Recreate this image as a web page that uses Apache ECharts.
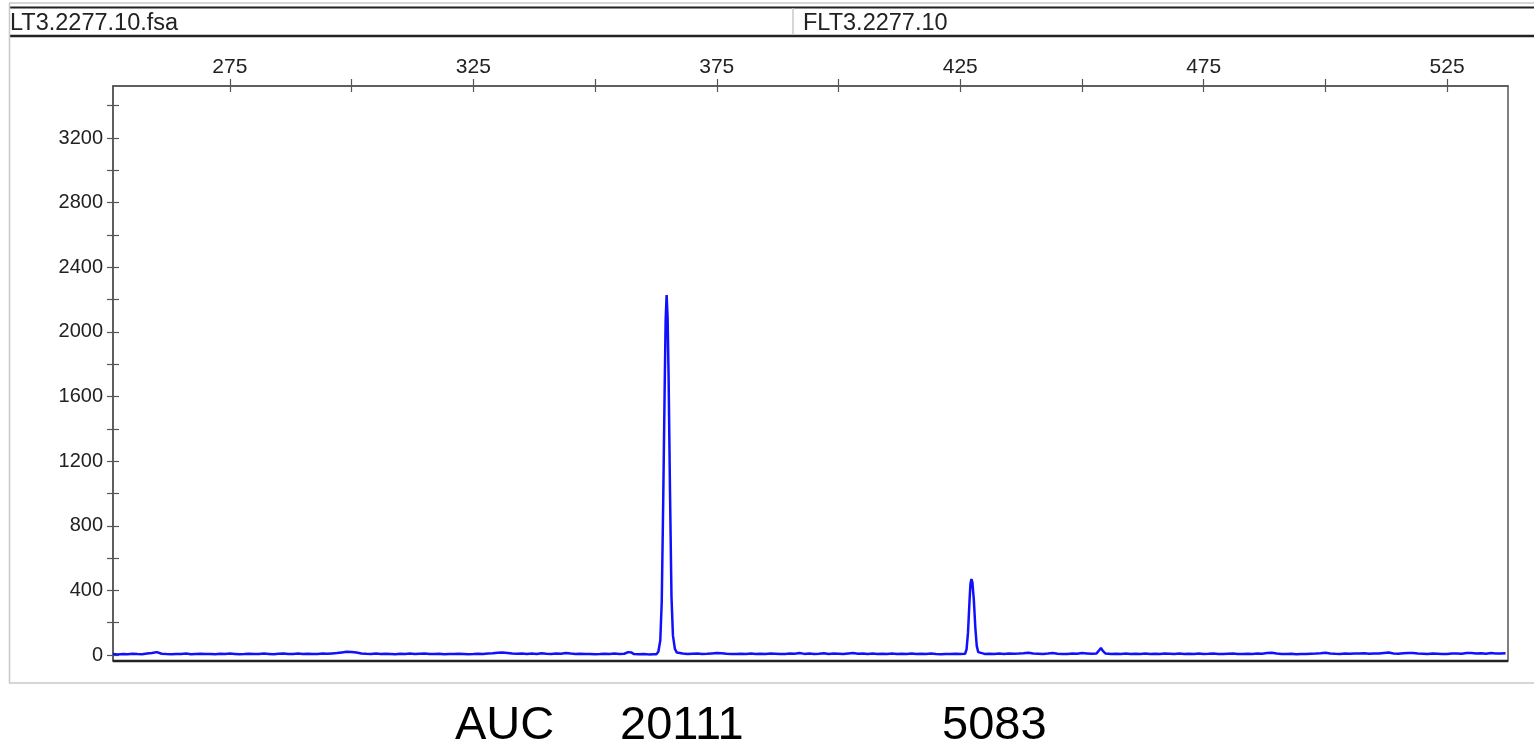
<!DOCTYPE html>
<html>
<head>
<meta charset="utf-8">
<title>FLT3.2277.10</title>
<script src="https://cdn.jsdelivr.net/npm/echarts@6/dist/echarts.min.js"></script>
<style>
  html, body { margin: 0; padding: 0; background: #fff; }
  #chart { width: 1534px; height: 744px; }
</style>
</head>
<body>
<div id="chart"></div>
<script>
// ── Data ─────────────────────────────────────────────────────────────────────
// Baseline trace, one reading per base pair starting at 251 bp.
const baseStartBp = 251;
const baseRfu = [
  6, 4, 7, 5, 8, 6, 5, 9, 12, 18,
  8, 6, 5, 7, 6, 9, 5, 7, 8, 6,
  7, 5, 8, 6, 9, 7, 5, 6, 8, 7,
  6, 9, 7, 5, 8, 10, 6, 7, 9, 6,
  8, 6, 7, 9, 8, 10, 12, 16, 20, 19,
  15, 10, 8, 7, 9, 6, 8, 7, 5, 8,
  7, 9, 6, 8, 10, 7, 6, 8, 5, 7,
  6, 8, 7, 5, 6, 8, 7, 9, 11, 14,
  15, 13, 9, 8, 10, 7, 9, 6, 11, 8,
  7, 10, 8, 12, 9, 7, 8, 6, 7, 5,
  6, 8, 7, 9, 6, 8, 12, 10, 5, 6,
  4, 5, 6, 10, 20, 10, 8, 9, 7, 8,
  9, 7, 8, 10, 12, 11, 8, 7, 6, 8,
  7, 9, 6, 8, 7, 10, 8, 6, 7, 9,
  8, 12, 7, 9, 6, 8, 11, 7, 9, 8,
  6, 9, 12, 8, 10, 7, 9, 6, 8, 7,
  9, 6, 8, 7, 10, 6, 8, 7, 9, 6,
  5, 7, 6, 8, 6, 10, 40, 10, 6, 7,
  8, 6, 9, 7, 10, 8, 9, 11, 14, 9,
  8, 7, 9, 12, 8, 6, 7, 9, 8, 12,
  10, 8, 15, 40, 12, 6, 8, 7, 9, 6,
  8, 7, 9, 6, 8, 7, 10, 8, 6, 9,
  7, 8, 6, 9, 7, 8, 10, 7, 6, 8,
  9, 7, 6, 8, 7, 9, 8, 12, 14, 9,
  7, 6, 8, 5, 7, 6, 8, 9, 11, 14,
  10, 8, 7, 9, 8, 10, 9, 11, 8, 10,
  9, 12, 15, 10, 8, 11, 13, 12, 9, 8,
  7, 9, 8, 6, 7, 10, 9, 8, 12, 13,
  9, 11, 8, 12, 10, 9, 11
];

// Finely sampled regions around the peaks and small bumps
const bump1Bp  = [356.4, 356.8, 357.1, 357.5, 358.0];
const bump1Rfu = [8, 18, 28, 15, 6];

const peak1Bp  = [362.6, 363.0, 363.4, 363.7, 364.0, 364.3, 364.5, 364.7, 364.9, 365.1, 365.4, 365.7, 366.0, 366.4, 366.8, 367.2];
const peak1Rfu = [5, 20, 90, 330, 950, 1650, 2070, 2228, 2090, 1740, 1000, 360, 120, 38, 15, 6];

const peak2Bp  = [426.0, 426.3, 426.6, 426.9, 427.1, 427.3, 427.5, 427.8, 428.1, 428.4, 428.7, 429.0];
const peak2Rfu = [8, 35, 140, 330, 440, 470, 450, 340, 170, 55, 18, 8];

const bump2Bp  = [453.0, 453.5, 453.9, 454.3, 454.8];
const bump2Rfu = [10, 28, 44, 25, 10];

// Axis ticks / labels
const xTickValues  = [275, 300, 325, 350, 375, 400, 425, 450, 475, 500, 525];
const xLabelValues = [275, 325, 375, 425, 475, 525];
const yTickValues  = [0, 200, 400, 600, 800, 1000, 1200, 1400, 1600, 1800, 2000, 2200, 2400, 2600, 2800, 3000, 3200, 3400];
const yLabelValues = [0, 400, 800, 1200, 1600, 2000, 2400, 2800, 3200];

const headerLeft  = 'LT3.2277.10.fsa';
const headerRight = 'FLT3.2277.10';
const aucLabel  = 'AUC';
const aucValues = ['20111', '5083'];

// ── Build the trace ──────────────────────────────────────────────────────────
const detail = [
  [bump1Bp, bump1Rfu], [peak1Bp, peak1Rfu], [peak2Bp, peak2Rfu], [bump2Bp, bump2Rfu]
];
const points = [];
baseRfu.forEach((v, i) => {
  const bp = baseStartBp + i;
  // drop baseline readings that fall inside a finely sampled window
  const covered = detail.some(([bps]) => bp >= bps[0] && bp <= bps[bps.length - 1]);
  if (!covered) points.push([bp, v]);
});
detail.forEach(([bps, rfus]) => bps.forEach((bp, i) => points.push([bp, rfus[i]])));
points.sort((a, b) => a[0] - b[0]);

// ── Chart ────────────────────────────────────────────────────────────────────
const FONT = 'Liberation Sans, Arial, Helvetica, sans-serif';
const AXIS = '#555';
const X_MIN = 251, X_MAX = 537.5;
const Y_MIN = -37, Y_MAX = 3522;
const GRID = { left: 113, right: 26, top: 86, bottom: 83 };
const GRID_W = 1534 - GRID.left - GRID.right;
const GRID_H = 744 - GRID.top - GRID.bottom;

const chart = echarts.init(document.getElementById('chart'), null, { renderer: 'canvas' });

const xBase = { type: 'value', min: X_MIN, max: X_MAX, splitLine: { show: false } };
const yBase = { type: 'value', min: Y_MIN, max: Y_MAX, splitLine: { show: false } };
const tickStyle = { color: AXIS, width: 1.2 };

chart.setOption({
  animation: false,
  backgroundColor: '#fff',
  grid: Object.assign({ show: true, borderColor: AXIS, borderWidth: 1.5 }, GRID),
  xAxis: [
    // labelled top axis, ticks pointing out
    Object.assign({}, xBase, {
      position: 'top',
      axisLine: { show: true, onZero: false, lineStyle: { color: AXIS, width: 1.5 } },
      axisTick: { show: true, length: 7, customValues: xTickValues, lineStyle: tickStyle },
      axisLabel: { customValues: xLabelValues, color: '#222', fontSize: 21, fontFamily: FONT, margin: 8 }
    }),
    // helper axis shifted up onto the top edge: its ticks point into the plot
    Object.assign({}, xBase, {
      position: 'bottom',
      offset: -GRID_H,
      axisLine: { show: false, onZero: false },
      axisTick: { show: true, length: 6, customValues: xTickValues, lineStyle: tickStyle },
      axisLabel: { show: false }
    })
  ],
  yAxis: [
    Object.assign({}, yBase, {
      position: 'left',
      axisLine: { show: true, onZero: false, lineStyle: { color: AXIS, width: 1.5 } },
      axisTick: { show: true, length: 6, customValues: yTickValues, lineStyle: tickStyle },
      axisLabel: {
        customValues: yLabelValues, color: '#222', fontSize: 20, fontFamily: FONT, margin: 10,
        formatter: v => String(v)
      }
    }),
    // helper axis shifted left onto the left edge: its ticks point into the plot
    Object.assign({}, yBase, {
      position: 'right',
      offset: -GRID_W,
      axisLine: { show: false, onZero: false },
      axisTick: { show: true, length: 6, customValues: yTickValues, lineStyle: tickStyle },
      axisLabel: { show: false }
    })
  ],
  series: [{
    type: 'line',
    xAxisIndex: 0,
    yAxisIndex: 0,
    data: points,
    showSymbol: false,
    smooth: false,
    clip: true,
    lineStyle: { color: '#1010ff', width: 2.5 }
  }],
  graphic: [
    // header strip
    { type: 'line', shape: { x1: 9, y1: 3, x2: 1534, y2: 3 }, style: { stroke: '#c8c8c8', lineWidth: 1.5 } },
    { type: 'line', shape: { x1: 9, y1: 7.5, x2: 1534, y2: 7.5 }, style: { stroke: '#222', lineWidth: 2 } },
    { type: 'line', shape: { x1: 9, y1: 36, x2: 1534, y2: 36 }, style: { stroke: '#222', lineWidth: 2.5 } },
    { type: 'line', shape: { x1: 793, y1: 8, x2: 793, y2: 35 }, style: { stroke: '#c8c8c8', lineWidth: 1.5 } },
    { type: 'text', left: 10, top: 12, style: { text: headerLeft, font: '23.5px ' + FONT, fill: '#222' } },
    { type: 'text', left: 803, top: 12, style: { text: headerRight, font: '23.5px ' + FONT, fill: '#222' } },
    // panel frame
    { type: 'line', shape: { x1: 9.5, y1: 3, x2: 9.5, y2: 683 }, style: { stroke: '#c8c8c8', lineWidth: 1.5 } },
    { type: 'line', shape: { x1: 9, y1: 683, x2: 1534, y2: 683 }, style: { stroke: '#c8c8c8', lineWidth: 1.5 } },
    // heavier bottom edge of the plot
    { type: 'line', z: 100, shape: { x1: 113, y1: 661, x2: 1508, y2: 661 }, style: { stroke: '#222', lineWidth: 2.5 } },
    // AUC annotation
    { type: 'text', left: 455, top: 703, style: { text: aucLabel, font: '47px ' + FONT, fill: '#000' } },
    { type: 'text', left: 620, top: 703, style: { text: aucValues[0], font: '47px ' + FONT, fill: '#000' } },
    { type: 'text', left: 942, top: 703, style: { text: aucValues[1], font: '47px ' + FONT, fill: '#000' } }
  ]
});
</script>
</body>
</html>
